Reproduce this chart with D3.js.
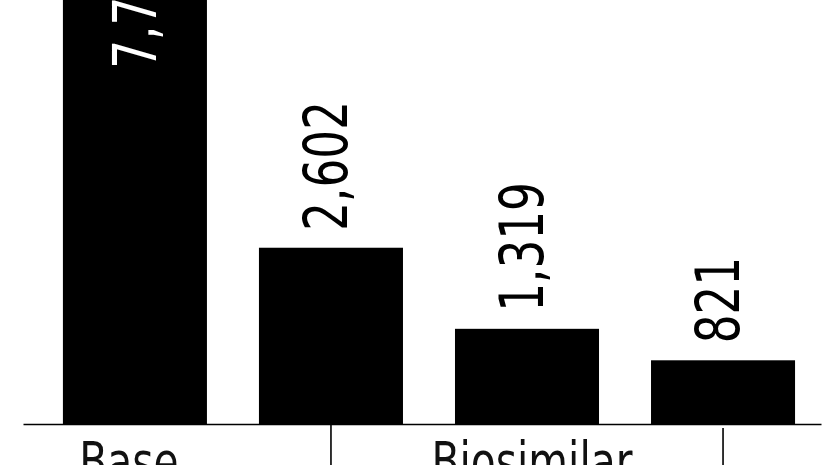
<!DOCTYPE html>
<html>
<head>
<meta charset="utf-8">
<script src="https://cdn.jsdelivr.net/npm/d3@7"></script>
<style>
  html, body { margin: 0; padding: 0; background: #fff; overflow: hidden; }
  svg { display: block; }
  text { font-family: "Liberation Sans Narrow", "DejaVu Sans Condensed", "Roboto", sans-serif; }
</style>
</head>
<body>
<div id="chart"></div>
<script>
// Daten
const categories = ["Base", "Biosimilar 1", "Biosimilar 2", "Biosimilar 3"];
const values = [7740, 2602, 1319, 821];
const groupLabels = ["Base", "Biosimilar"];
const groupAt = [0, 2];        // Kategorie, unter der das Gruppenlabel steht
const separatorsAt = [1, 3];   // Kategorien mit Trennstrich

const width = 826, height = 465;
const baseY = 424;
const squeeze = 0.84; // Schrift schmaler machen (Original ist condensed)

const svg = d3.select("#chart").append("svg")
  .attr("width", width)
  .attr("height", height);

const x = d3.scaleBand()
  .domain(categories)
  .range([23, 821])
  .paddingInner(0.2653)
  .paddingOuter(0.168)
  .align(0.606);

// Achse beginnt nicht bei 0 (so wie im Original)
const y = d3.scaleLinear()
  .domain([-187, 8000])
  .range([baseY, baseY - 0.0632 * 8187]);

// Balken
svg.selectAll(".bar")
  .data(values)
  .enter()
  .append("rect")
  .attr("class", "bar")
  .attr("x", (d, i) => x(categories[i]))
  .attr("y", d => y(d))
  .attr("width", x.bandwidth())
  .attr("height", d => baseY - y(d))
  .attr("fill", "#000");

// Werte-Labels, gedreht
const fmt = d3.format(",");
svg.selectAll(".val")
  .data(values)
  .enter()
  .append("text")
  .attr("class", "val")
  .attr("transform", (d, i) => {
    const cx = x(categories[i]) + x.bandwidth() / 2;
    const inside = y(d) < 0;
    const ty = inside ? y(d) + 16 : y(d) - 17;
    return `translate(${cx},${ty}) rotate(-90) scale(${squeeze},1)`;
  })
  .attr("dy", d => y(d) < 0 ? "0.35em" : "0.27em")
  .attr("text-anchor", d => y(d) < 0 ? "end" : "start")
  .attr("fill", d => y(d) < 0 ? "#fff" : "#000")
  .style("font-size", "60px")
  .text(d => fmt(d));

// x-Achse
svg.append("g")
  .attr("transform", `translate(0,${baseY})`)
  .call(d3.axisBottom(x).tickSize(0).tickSizeOuter(0).tickFormat(""))
  .call(g => g.select(".domain").attr("stroke", "#000").attr("stroke-width", 1.6));

// Trennstriche
svg.selectAll(".sep")
  .data(separatorsAt)
  .enter()
  .append("line")
  .attr("class", "sep")
  .attr("x1", i => x(categories[i]) + x.bandwidth() / 2)
  .attr("x2", i => x(categories[i]) + x.bandwidth() / 2)
  .attr("y1", (d, i) => i === 0 ? baseY : baseY + 4)
  .attr("y2", height)
  .attr("stroke", "#000")
  .attr("stroke-width", 1.6);

// Gruppenlabels
svg.selectAll(".grp")
  .data(groupLabels)
  .enter()
  .append("text")
  .attr("class", "grp")
  .attr("transform", (d, i) => {
    const cx = x(categories[groupAt[i]]) + x.bandwidth() / 2 + (i === 0 ? -6 : 5);
    return `translate(${cx},480) scale(${squeeze},1)`;
  })
  .attr("text-anchor", "middle")
  .attr("fill", "#111")
  .style("font-size", "54px")
  .text(d => d);
</script>
</body>
</html>
